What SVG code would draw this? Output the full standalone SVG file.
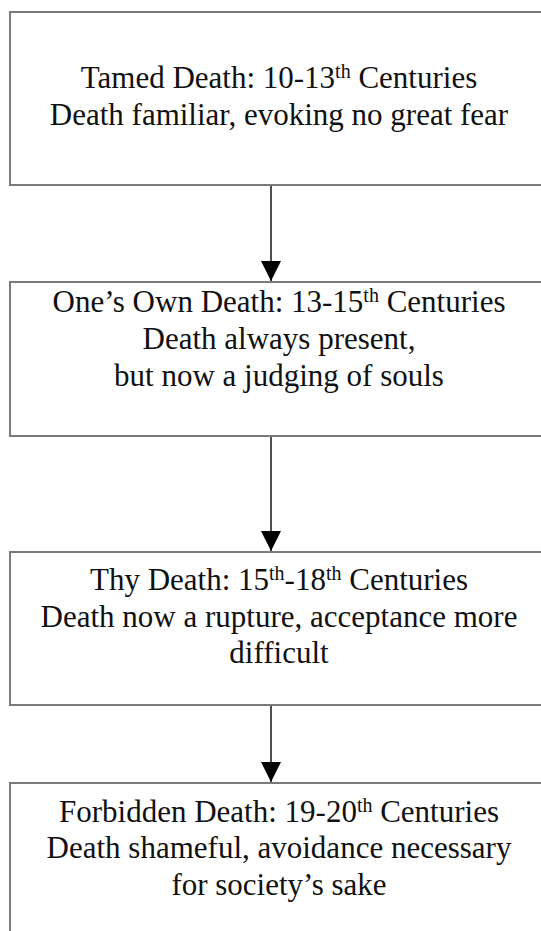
<svg xmlns="http://www.w3.org/2000/svg" width="541" height="931" viewBox="0 0 541 931">
<defs>
<style>
.box{fill:#fff;stroke:#7a7a7a;stroke-width:2}
.t{font-family:"Liberation Serif","Times New Roman",serif;font-size:31px;fill:#111;text-anchor:middle}
.sup{font-size:20px}
.conn{stroke:#222;stroke-width:1.6;fill:none}
</style>
<marker id="ah" markerUnits="userSpaceOnUse" markerWidth="20" markerHeight="20" refX="20" refY="10" orient="auto" viewBox="0 0 20 20">
<path d="M0,0 L20,10 L0,20 Z" fill="#000"/>
</marker>
</defs>
<rect width="541" height="931" fill="#fff"/>
<g id="node1">
<rect class="box" x="10" y="12" width="538" height="173"/>
<text class="t" x="279" y="88">Tamed Death: 10-13<tspan class="sup" dy="-10">th</tspan><tspan dy="10"> Centuries</tspan></text>
<text class="t" x="279" y="125">Death familiar, evoking no great fear</text>
</g>
<g id="node2">
<rect class="box" x="10" y="282" width="538" height="154"/>
<text class="t" x="279" y="312">One’s Own Death: 13-15<tspan class="sup" dy="-10">th</tspan><tspan dy="10"> Centuries</tspan></text>
<text class="t" x="279" y="349">Death always present,</text>
<text class="t" x="279" y="386">but now a judging of souls</text>
</g>
<g id="node3">
<rect class="box" x="10" y="552" width="538" height="153"/>
<text class="t" x="279" y="590">Thy Death: 15<tspan class="sup" dy="-10">th</tspan><tspan dy="10">-18</tspan><tspan class="sup" dy="-10">th</tspan><tspan dy="10"> Centuries</tspan></text>
<text class="t" x="279" y="627">Death now a rupture, acceptance more</text>
<text class="t" x="279" y="663">difficult</text>
</g>
<g id="node4">
<rect class="box" x="10" y="783" width="538" height="200"/>
<text class="t" x="279" y="822">Forbidden Death: 19-20<tspan class="sup" dy="-10">th</tspan><tspan dy="10"> Centuries</tspan></text>
<text class="t" x="279" y="858">Death shameful, avoidance necessary</text>
<text class="t" x="279" y="895">for society’s sake</text>
</g>
<g id="connectors">
<line class="conn" x1="271" y1="186" x2="271" y2="281" marker-end="url(#ah)"/>
<line class="conn" x1="271" y1="437" x2="271" y2="551" marker-end="url(#ah)"/>
<line class="conn" x1="271" y1="706" x2="271" y2="782" marker-end="url(#ah)"/>
</g>
</svg>
